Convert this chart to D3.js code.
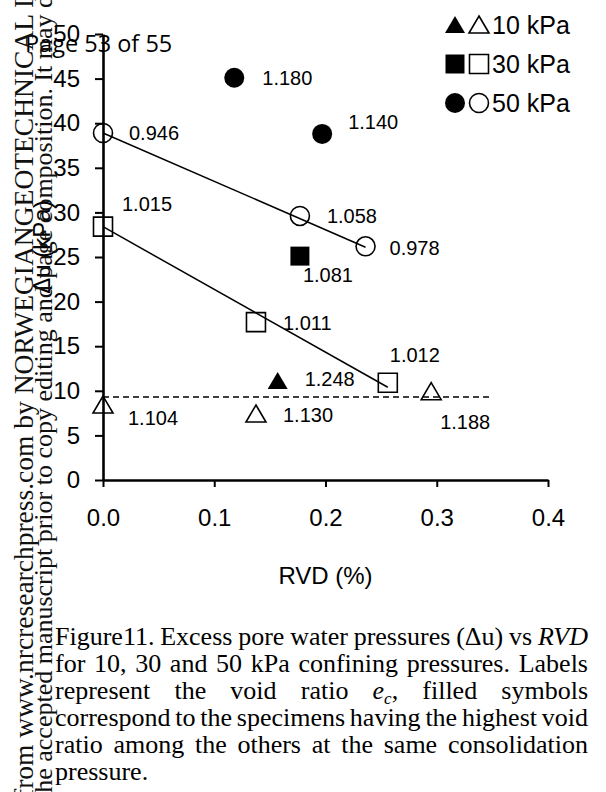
<!DOCTYPE html>
<html>
<head>
<meta charset="utf-8">
<script src="https://d3js.org/d3.v7.min.js"></script>
<style>
body { margin: 0; background: #fff; }
svg { display: block; }
</style>
</head>
<body>
<script>
const width = 606;
const height = 792;

// RVD (%) vs excess pore pressure du (kPa), labels = void ratio e_c
const rvd10 = [0.0, 0.1375, 0.295];
const du10 = [8.4, 7.4, 9.9];
const ec10 = ["1.104", "1.130", "1.188"];
const rvd10max = [0.157];
const du10max = [11.1];
const ec10max = ["1.248"];

const rvd30 = [0.0, 0.1375, 0.256];
const du30 = [28.4, 17.7, 10.9];
const ec30 = ["1.015", "1.011", "1.012"];
const rvd30max = [0.177];
const du30max = [25.1];
const ec30max = ["1.081"];

const rvd50 = [0.0, 0.177, 0.236];
const du50 = [38.9, 29.6, 26.2];
const ec50 = ["0.946", "1.058", "0.978"];
const rvd50max = [0.118, 0.197];
const du50max = [45.1, 38.8];
const ec50max = ["1.180", "1.140"];

// trend lines
const fit30 = [[0, 28.4], [0.256, 10.4]];
const fit50 = [[0, 38.9], [0.236, 26.1]];
const ref10 = [[0, 9.3], [0.35, 9.3]];

const xTicks = [0, 0.1, 0.2, 0.3, 0.4];
const yTicks = [0, 5, 10, 15, 20, 25, 30, 35, 40, 45, 50];
const legendLabels = ["10 kPa", "30 kPa", "50 kPa"];
const legendShapes = ["triangle", "square", "circle"];

const captionLines = [
  "Figure11. Excess pore water pressures (\u0394u) vs *RVD*",
  "for 10, 30 and 50 kPa confining pressures. Labels",
  "represent the void ratio *e*~c~, filled symbols",
  "correspond to the specimens having the highest void",
  "ratio among the others at the same consolidation",
  "pressure."
];

// where each value label sits relative to its marker (px)
const labelNudge = {
  "1.104": [25, 13], "1.130": [27, 1], "1.188": [9, 30], "1.248": [27, -2],
  "1.015": [19, -23], "1.011": [27, 1], "1.012": [2, -28], "1.081": [3, 19],
  "0.946": [26, 0], "1.058": [27, 0], "0.978": [24, 2], "1.180": [28, 0], "1.140": [26, -12]
};

const sans = "'Liberation Sans', Arial, sans-serif";
const serif = "'Liberation Serif', 'Times New Roman', serif";

const svg = d3.select("body").append("svg")
    .attr("width", width)
    .attr("height", height);

const x = d3.scaleLinear().domain([0, 0.4]).range([103, 548]);
const y = d3.scaleLinear().domain([0, 50]).range([480, 34]);

// axes
const gx = svg.append("g")
    .attr("transform", `translate(0,${y(0)})`)
    .call(d3.axisBottom(x).tickValues(xTicks).tickFormat(d3.format(".1f"))
        .tickSize(7).tickSizeOuter(0).tickPadding(22));
const gy = svg.append("g")
    .attr("transform", `translate(${x(0)},0)`)
    .call(d3.axisLeft(y).tickValues(yTicks).tickFormat(d3.format("d"))
        .tickSize(8).tickSizeOuter(0).tickPadding(15));
[gx, gy].forEach(g => {
    g.select(".domain").attr("stroke", "#000").attr("stroke-width", 2.6);
    g.selectAll(".tick line").attr("stroke", "#000").attr("stroke-width", 2);
    g.selectAll(".tick text").attr("fill", "#000")
        .style("font-family", sans).style("font-size", "24px");
});

svg.append("text")
    .attr("x", (x(0) + x(0.4)) / 2)
    .attr("y", 584)
    .attr("text-anchor", "middle")
    .style("font-family", sans).style("font-size", "24px")
    .text("RVD (%)");

svg.append("text")
    .attr("transform", `translate(50,${(y(0) + y(50)) / 2 - 10}) rotate(-90)`)
    .attr("text-anchor", "middle")
    .style("font-family", sans).style("font-size", "24px")
    .text("\u0394u (kPa)");

// lines
const line = d3.line().x(d => x(d[0])).y(d => y(d[1]));
svg.append("path").attr("d", line(fit50)).attr("fill", "none").attr("stroke", "#000").attr("stroke-width", 1.5);
svg.append("path").attr("d", line(fit30)).attr("fill", "none").attr("stroke", "#000").attr("stroke-width", 1.5);
svg.append("path").attr("d", line(ref10)).attr("fill", "none").attr("stroke", "#000")
    .attr("stroke-width", 1.5).attr("stroke-dasharray", "6,4");

function drawMark(g, shape, filled, cx, cy) {
    let m;
    if (shape === "circle") {
        m = g.append("circle").attr("cx", cx).attr("cy", cy).attr("r", filled ? 10 : 9.5);
    } else if (shape === "square") {
        m = g.append("path").attr("d", `M${cx - 9.5},${cy - 9.5}h19v19h-19Z`);
    } else {
        m = g.append("path").attr("d", `M${cx},${cy - 9}L${cx + 10},${cy + 8}L${cx - 10},${cy + 8}Z`);
    }
    m.attr("fill", filled ? "#000" : "none")
     .attr("stroke", "#000")
     .attr("stroke-width", filled ? 0 : 1.6);
}

const series = [
    { shape: "triangle", filled: false, rvd: rvd10, du: du10, ec: ec10 },
    { shape: "triangle", filled: true, rvd: rvd10max, du: du10max, ec: ec10max },
    { shape: "square", filled: false, rvd: rvd30, du: du30, ec: ec30 },
    { shape: "square", filled: true, rvd: rvd30max, du: du30max, ec: ec30max },
    { shape: "circle", filled: false, rvd: rvd50, du: du50, ec: ec50 },
    { shape: "circle", filled: true, rvd: rvd50max, du: du50max, ec: ec50max }
];

const marks = svg.append("g");
series.forEach(s => {
    s.rvd.forEach((r, i) => {
        const cx = x(r), cy = y(s.du[i]);
        drawMark(marks, s.shape, s.filled, cx, cy);
        const nudge = labelNudge[s.ec[i]];
        marks.append("text")
            .attr("x", cx + nudge[0])
            .attr("y", cy + nudge[1])
            .attr("dominant-baseline", "central")
            .style("font-family", sans).style("font-size", "20px")
            .text(s.ec[i]);
    });
});

// legend
const legend = svg.append("g");
legendLabels.forEach((lab, i) => {
    const cy = 25 + i * 39;
    drawMark(legend, legendShapes[i], true, 455, cy);
    drawMark(legend, legendShapes[i], false, 479, cy);
    legend.append("text")
        .attr("x", 492).attr("y", cy)
        .attr("dominant-baseline", "central")
        .style("font-family", sans).style("font-size", "25px")
        .text(lab);
});

// page header
svg.append("text")
    .attr("x", 25).attr("y", 52)
    .style("font-family", "'Open Sans', sans-serif").style("font-size", "23.5px")
    .text("Page 53 of 55");

// caption, justified
const capLeft = 55, capRight = 588, capTop = 645, capStep = 27;
captionLines.forEach((ln, li) => {
    const words = ln.split(" ");
    const nodes = words.map(w => {
        const t = svg.append("text").attr("y", capTop + li * capStep)
            .style("font-family", serif).style("font-size", "26px");
        const parts = w.match(/(\*[^*]+\*|~[^~]+~|[^*~]+)/g);
        let shifted = false;
        parts.forEach(p => {
            if (p[0] === "*") {
                t.append("tspan").style("font-style", "italic").text(p.slice(1, -1));
            } else if (p[0] === "~") {
                t.append("tspan").style("font-style", "italic").style("font-size", "17px")
                    .attr("dy", 5).text(p.slice(1, -1));
                shifted = true;
            } else {
                const ts = t.append("tspan").text(p);
                if (shifted) { ts.attr("dy", -5); shifted = false; }
            }
        });
        return t;
    });
    const widths = nodes.map(n => n.node().getComputedTextLength());
    const total = d3.sum(widths);
    const last = li === captionLines.length - 1;
    const gap = last ? 6 : (capRight - capLeft - total) / (words.length - 1);
    let cx = capLeft;
    nodes.forEach((n, i) => {
        n.attr("x", cx);
        n.selectAll("tspan").each(function (d, j) { if (j === 0) d3.select(this).attr("x", cx); });
        cx += widths[i] + gap;
    });
});

// side watermark
const wm = svg.append("g").style("font-family", serif).attr("fill", "#111");
wm.append("text")
    .attr("transform", "translate(33,798) rotate(-90)")
    .style("font-size", "27.5px")
    .text("from www.nrcresearchpress.com by NORWEGIANGEOTECHNICAL INSTITUTE on 11/13/19");
wm.append("text")
    .attr("transform", "translate(52,800) rotate(-90)")
    .style("font-size", "26px")
    .text("the accepted manuscript prior to copy editing and page composition. It may differ from the final official version of record.");
</script>
</body>
</html>
